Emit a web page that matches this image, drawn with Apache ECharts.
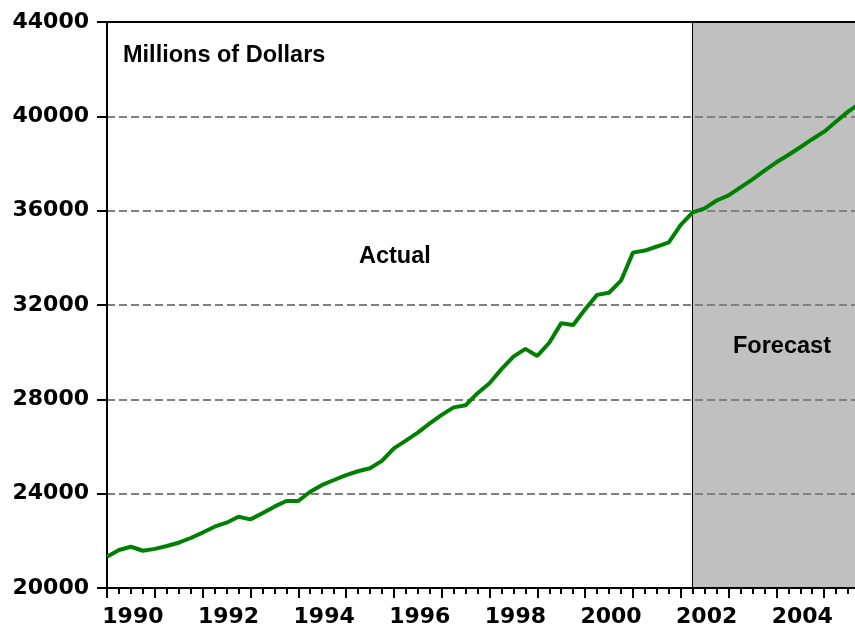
<!DOCTYPE html>
<html>
<head>
<meta charset="utf-8">
<script src="https://cdn.jsdelivr.net/npm/echarts@6/dist/echarts.min.js"></script>
<style>
html,body{margin:0;padding:0;background:#ffffff;overflow:hidden;width:855px;height:630px;}
#chart{width:875px;height:630px;}
</style>
</head>
<body>
<div id="chart"></div>
<script>
const quarters = [
  '1990Q1','1990Q2','1990Q3','1990Q4','1991Q1','1991Q2','1991Q3','1991Q4',
  '1992Q1','1992Q2','1992Q3','1992Q4','1993Q1','1993Q2','1993Q3','1993Q4',
  '1994Q1','1994Q2','1994Q3','1994Q4','1995Q1','1995Q2','1995Q3','1995Q4',
  '1996Q1','1996Q2','1996Q3','1996Q4','1997Q1','1997Q2','1997Q3','1997Q4',
  '1998Q1','1998Q2','1998Q3','1998Q4','1999Q1','1999Q2','1999Q3','1999Q4',
  '2000Q1','2000Q2','2000Q3','2000Q4','2001Q1','2001Q2','2001Q3','2001Q4',
  '2002Q1','2002Q2','2002Q3','2002Q4','2003Q1','2003Q2','2003Q3','2003Q4',
  '2004Q1','2004Q2','2004Q3','2004Q4','2005Q1','2005Q2','2005Q3','2005Q4'
];
const values = [
  21330, 21610, 21750, 21580, 21660, 21780, 21920, 22120,
  22350, 22600, 22770, 23020, 22910, 23170, 23450, 23690,
  23690, 24080, 24370, 24580, 24790, 24950, 25080, 25390,
  25920, 26250, 26590, 26980, 27340, 27660, 27750, 28260,
  28680, 29280, 29810, 30140, 29840, 30400, 31230, 31150,
  31820, 32430, 32520, 33030, 34220, 34310, 34480, 34660,
  35400, 35930, 36100, 36430, 36650, 36990, 37330, 37700,
  38050, 38360, 38690, 39030, 39350, 39780, 40200, 40550
];
const yTicks = [20000, 24000, 28000, 32000, 36000, 40000, 44000];
const xLabelYears = [1990, 1992, 1994, 1996, 1998, 2000, 2002, 2004];
const forecastStart = '2002Q2';
const unitText = 'Millions of Dollars';
const actualText = 'Actual';
const forecastText = 'Forecast';

function qToYear(q) { return Number(q.slice(0, 4)) + (Number(q.slice(5)) - 1) / 4; }
const seriesData = quarters.map((q, i) => [qToYear(q), values[i]]);
const xMin = qToYear(quarters[0]);
const xMax = qToYear(quarters[quarters.length - 1]) + 0.25;
const yMin = yTicks[0];
const yMax = yTicks[yTicks.length - 1];
const yStep = yTicks[1] - yTicks[0];
const fStart = qToYear(forecastStart);

const numFont = 'DejaVu Sans';
const txtFont = '"Liberation Sans", Arial, sans-serif';

const chart = echarts.init(document.getElementById('chart'), null, { renderer: 'canvas' });
chart.setOption({
  animation: false,
  backgroundColor: '#ffffff',
  grid: { left: 107, right: 0, top: 22, bottom: 42, containLabel: false },
  xAxis: [
    {
      type: 'value', position: 'bottom', min: xMin, max: xMax, interval: 1, z: 3,
      axisLine: { show: true, onZero: false, lineStyle: { color: '#000', width: 2 } },
      axisTick: { show: true, length: 10, lineStyle: { color: '#000', width: 2 } },
      minorTick: { show: true, splitNumber: 4, length: 6, lineStyle: { color: '#000', width: 2 } },
      axisLabel: { show: false },
      splitLine: { show: false }, minorSplitLine: { show: false }
    },
    {
      type: 'value', position: 'bottom', min: xMin, max: xMax, interval: 0.5, z: 3,
      axisLine: { show: false, onZero: false },
      axisTick: { show: false },
      axisLabel: {
        show: true, margin: 18, padding: [0, 0, 0, 4], color: '#000', fontFamily: numFont, fontWeight: 'bold', fontSize: 22,
        showMinLabel: true, showMaxLabel: true,
        formatter: function (v) {
          const y = Math.round((v - 0.5) * 2) / 2;
          return xLabelYears.indexOf(y) >= 0 ? String(y) : '';
        }
      },
      splitLine: { show: false }
    },
    {
      type: 'value', position: 'top', min: xMin, max: xMax, z: 3,
      axisLine: { show: true, onZero: false, lineStyle: { color: '#000', width: 2 } },
      axisTick: { show: false }, axisLabel: { show: false }, splitLine: { show: false }
    }
  ],
  yAxis: {
    type: 'value', position: 'left', min: yMin, max: yMax, interval: yStep, z: 1.5,
    axisLine: { show: true, onZero: false, lineStyle: { color: '#000', width: 2 } },
    axisTick: { show: true, length: 10, lineStyle: { color: '#000', width: 2 } },
    axisLabel: {
      margin: 18, color: '#000', fontFamily: numFont, fontWeight: 'bold', fontSize: 22,
      formatter: function (v) { return String(v); }
    },
    splitLine: {
      show: true, showMinLine: false, showMaxLine: false,
      lineStyle: { color: '#808080', width: 2, type: [8, 4] }
    }
  },
  series: [
    {
      type: 'line', xAxisIndex: 0, yAxisIndex: 0, data: seriesData,
      showSymbol: false, symbol: 'none', z: 2, clip: true,
      lineStyle: { color: '#008000', width: 4 },
      markArea: {
        silent: true, z: 1,
        itemStyle: { color: '#C0C0C0' },
        data: [[{ xAxis: fStart }, { xAxis: xMax }]]
      },
      markLine: {
        silent: true, z: 1.8, symbol: ['none', 'none'],
        label: { show: false },
        lineStyle: { color: '#000', width: 1, type: 'solid' },
        data: [{ xAxis: fStart }]
      }
    }
  ],
  graphic: [
    { type: 'text', x: 123, y: 55.4, z: 10,
      style: { text: unitText, font: 'bold 23.5px ' + txtFont, fill: '#000', align: 'left', verticalAlign: 'middle' } },
    { type: 'text', x: 359, y: 257, z: 10,
      style: { text: actualText, font: 'bold 23.5px ' + txtFont, fill: '#000', align: 'left', verticalAlign: 'middle' } },
    { type: 'text', x: 733, y: 347, z: 10,
      style: { text: forecastText, font: 'bold 23.5px ' + txtFont, fill: '#000', align: 'left', verticalAlign: 'middle' } }
  ]
});
</script>
</body>
</html>
